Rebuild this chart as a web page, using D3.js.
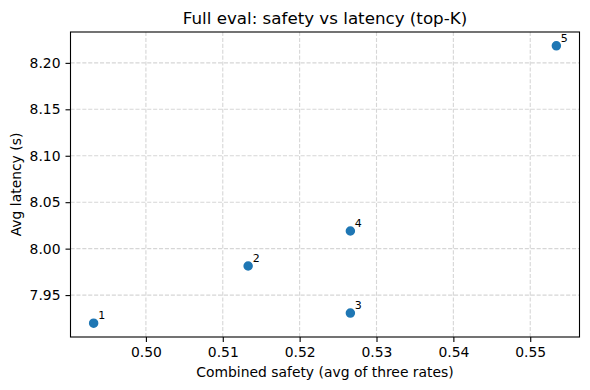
<!DOCTYPE html>
<html>
<head>
<meta charset="utf-8">
<script src="https://cdn.jsdelivr.net/npm/d3@7"></script>
<style>
body { margin: 0; background: #fff; }
text { font-family: "DejaVu Sans", sans-serif; fill: #000; }
</style>
</head>
<body>
<svg id="chart" width="590" height="390"></svg>
<script>
// Data
var labels = ["1", "2", "3", "4", "5"];
var safety = [0.4932, 0.5133, 0.5266, 0.5266, 0.5534];
var latency = [7.9198, 7.9813, 7.9306, 8.0190, 8.2183];
var xTicks = [0.50, 0.51, 0.52, 0.53, 0.54, 0.55];
var yTicks = [7.95, 8.00, 8.05, 8.10, 8.15, 8.20];

var margin = {left: 70.5, right: 10.5, top: 32, bottom: 53};
var width = 590 - margin.left - margin.right;
var height = 390 - margin.top - margin.bottom;

var svg = d3.select("#chart");
var g = svg.append("g")
	.attr("transform", "translate(" + margin.left + "," + margin.top + ")");

// matplotlib-like 5% padding
var xExt = d3.extent(safety), yExt = d3.extent(latency);
var xPad = (xExt[1] - xExt[0]) * 0.05, yPad = (yExt[1] - yExt[0]) * 0.05;
var x = d3.scaleLinear().domain([xExt[0] - xPad, xExt[1] + xPad]).range([0, width]);
var y = d3.scaleLinear().domain([yExt[0] - yPad, yExt[1] + yPad]).range([height, 0]);

// grid
g.append("g").selectAll("line").data(xTicks).enter().append("line")
	.attr("x1", function(d) { return x(d); })
	.attr("x2", function(d) { return x(d); })
	.attr("y1", 0).attr("y2", height)
	.attr("stroke", "#d6d6d6").attr("stroke-width", 1.1)
	.attr("stroke-dasharray", "4.1,1.8");
g.append("g").selectAll("line").data(yTicks).enter().append("line")
	.attr("y1", function(d) { return y(d); })
	.attr("y2", function(d) { return y(d); })
	.attr("x1", 0).attr("x2", width)
	.attr("stroke", "#d6d6d6").attr("stroke-width", 1.1)
	.attr("stroke-dasharray", "4.1,1.8");

// axes
var xAxis = g.append("g")
	.attr("transform", "translate(0," + height + ")")
	.call(d3.axisBottom(x).tickValues(xTicks).tickFormat(d3.format(".2f")).tickSizeOuter(0).tickSize(5).tickPadding(5));
var yAxis = g.append("g")
	.call(d3.axisLeft(y).tickValues(yTicks).tickFormat(d3.format(".2f")).tickSizeOuter(0).tickSize(5).tickPadding(5));
[xAxis, yAxis].forEach(function(a) {
	a.select(".domain").remove();
	a.selectAll("text").style("font-size", "13.9px").style("font-family", "DejaVu Sans");
	a.selectAll("line").attr("stroke-width", 1.1);
});

// frame
g.append("rect")
	.attr("width", width).attr("height", height)
	.attr("fill", "none").attr("stroke", "#000").attr("stroke-width", 1.1);

// points
var pts = labels.map(function(l, i) { return {label: l, x: safety[i], y: latency[i]}; });
g.selectAll("circle").data(pts).enter().append("circle")
	.attr("cx", function(d) { return x(d.x); })
	.attr("cy", function(d) { return y(d.y); })
	.attr("r", 4.0)
	.attr("fill", "#1f77b4")
	.attr("stroke", "#1f77b4").attr("stroke-width", 1.5);

g.selectAll("text.lbl").data(pts).enter().append("text")
	.attr("class", "lbl")
	.attr("x", function(d) { return x(d.x) + 4.5; })
	.attr("y", function(d) { return y(d.y) - 4.2; })
	.style("font-size", "11px")
	.text(function(d) { return d.label; });

// titles
svg.append("text")
	.attr("x", margin.left + width / 2).attr("y", 24)
	.attr("text-anchor", "middle")
	.style("font-size", "16.7px")
	.text("Full eval: safety vs latency (top-K)");

svg.append("text")
	.attr("x", margin.left + width / 2).attr("y", 377)
	.attr("text-anchor", "middle")
	.style("font-size", "13.9px")
	.text("Combined safety (avg of three rates)");

svg.append("text")
	.attr("transform", "translate(21," + (margin.top + height / 2) + ") rotate(-90)")
	.attr("text-anchor", "middle")
	.style("font-size", "13.9px")
	.text("Avg latency (s)");
</script>
</body>
</html>
